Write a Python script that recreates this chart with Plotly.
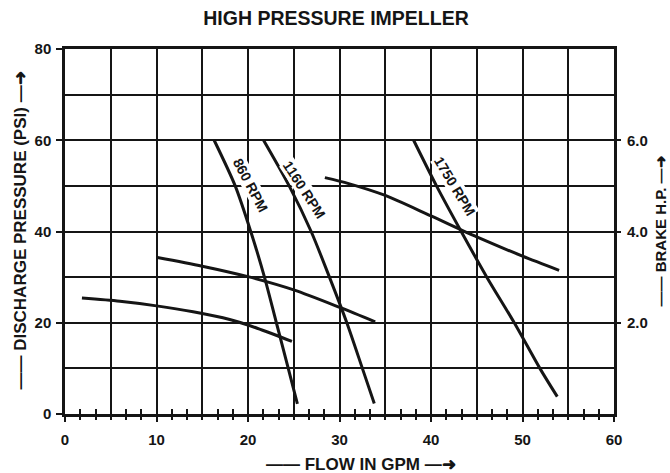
import plotly.graph_objects as go

# ---- Data ----
# Head curves: flow (GPM) vs discharge pressure (PSI)
gpm_860 = [16.3, 18.6, 20.3, 21.8, 23.1, 24.4, 25.4]
psi_860 = [60, 50, 40, 30, 20, 10, 2.2]

gpm_1160 = [21.7, 24.5, 26.9, 28.9, 30.8, 32.5, 33.8]
psi_1160 = [60, 50, 40, 30, 20, 10, 2.3]

gpm_1750 = [38.1, 40.6, 43.3, 46.1, 49.1, 51.9, 53.8]
psi_1750 = [60, 50, 40, 30, 20, 10, 3.8]

# Brake horsepower curves: flow (GPM) vs Brake H.P.
gpm_bhp_860 = [1.85, 6.0, 10.0, 14.0, 18.0, 21.0, 24.8]
bhp_860 = [2.54, 2.47, 2.37, 2.24, 2.07, 1.88, 1.59]

gpm_bhp_1160 = [10.1, 15.0, 20.0, 25.0, 30.1, 33.9]
bhp_1160 = [3.43, 3.24, 3.01, 2.72, 2.33, 2.02]

gpm_bhp_1750 = [28.4, 31.0, 35.0, 40.0, 45.0, 50.0, 54.0]
bhp_1750 = [5.18, 5.05, 4.79, 4.34, 3.88, 3.46, 3.15]

rpm_labels = ["860 RPM", "1160 RPM", "1750 RPM"]

INK = "#151515"
FONT = "Liberation Sans, Arial, sans-serif"

fig = go.Figure()

line_style = dict(color=INK, width=3, shape="spline", smoothing=0.8)
for gx, gy in [(gpm_860, psi_860), (gpm_1160, psi_1160), (gpm_1750, psi_1750)]:
    fig.add_trace(go.Scatter(x=gx, y=gy, mode="lines", line=line_style,
                             hoverinfo="skip", showlegend=False))
for gx, gy in [(gpm_bhp_860, bhp_860), (gpm_bhp_1160, bhp_1160), (gpm_bhp_1750, bhp_1750)]:
    fig.add_trace(go.Scatter(x=gx, y=gy, mode="lines", line=line_style, yaxis="y2",
                             hoverinfo="skip", showlegend=False))

# helper empty traces so the overlay tick axes get drawn
fig.add_trace(go.Scatter(x=[None], y=[None], xaxis="x2", mode="lines", showlegend=False, hoverinfo="skip"))
fig.add_trace(go.Scatter(x=[None], y=[None], xaxis="x3", mode="lines", showlegend=False, hoverinfo="skip"))

# RPM labels along the head curves
label_pos = [(20.3, 50.3, 62), (26.2, 49.2, 57), (42.6, 50.0, 59)]
for txt, (lx, ly, ang) in zip(rpm_labels, label_pos):
    fig.add_annotation(x=lx, y=ly, xref="x", yref="y", text=txt, showarrow=False,
                       textangle=ang, font=dict(family=FONT, size=14, color=INK, weight="bold"),
                       bgcolor="white", borderpad=0)

# axis titles
fig.add_annotation(xref="paper", yref="paper", x=0, y=0.5, xshift=-45, yshift=1,
                   xanchor="center", yanchor="middle",
                   text="—— DISCHARGE PRESSURE (PSI) —➜", textangle=-90, showarrow=False,
                   font=dict(family=FONT, size=17, color=INK, weight="bold"))
fig.add_annotation(xref="paper", yref="paper", x=1, y=0.5, xshift=46, yshift=0,
                   xanchor="center", yanchor="middle",
                   text="—— BRAKE H.P. —➜", textangle=-90, showarrow=False,
                   font=dict(family=FONT, size=15, color=INK, weight="bold"))
fig.add_annotation(xref="paper", yref="paper", x=0.5, y=0, xshift=21, yshift=-50,
                   xanchor="center", yanchor="middle",
                   text="—— FLOW IN GPM —➜", showarrow=False,
                   font=dict(family=FONT, size=17, color=INK, weight="bold"))

grid = dict(showgrid=True, gridcolor=INK, gridwidth=2)
tickfont = dict(family=FONT, size=15, color=INK, weight="bold")

fig.update_layout(
    width=670, height=473,
    margin=dict(l=65, r=56, t=49, b=59),
    paper_bgcolor="white", plot_bgcolor="white",
    showlegend=False,
    title=dict(text="HIGH PRESSURE IMPELLER", xref="container", x=0.5015,
               yref="container", y=0.962, xanchor="center", yanchor="middle",
               font=dict(family=FONT, size=19.5, color=INK, weight="bold")),
    xaxis=dict(range=[0, 60], tickmode="linear", tick0=0, dtick=10, **grid,
               minor=dict(tick0=0, dtick=5, showgrid=True, gridcolor=INK, gridwidth=2),
               showline=True, linecolor=INK, linewidth=2.5, mirror=True,
               ticks="outside", ticklen=5, tickwidth=2, tickcolor=INK,
               zeroline=False, tickfont=tickfont, ticklabelstandoff=5, fixedrange=True),
    xaxis2=dict(overlaying="x", anchor="y", range=[0, 60], tickmode="linear", tick0=0,
                dtick=5 / 3, ticks="outside", ticklen=5, tickwidth=1.8, tickcolor=INK,
                showticklabels=False, showgrid=False, zeroline=False, showline=False),
    xaxis3=dict(overlaying="x", anchor="y", range=[0, 60], tickmode="linear", tick0=0,
                dtick=5 / 3, ticks="inside", ticklen=5, tickwidth=1.8, tickcolor=INK,
                showticklabels=False, showgrid=False, zeroline=False, showline=False),
    yaxis=dict(range=[0, 80], tickmode="linear", tick0=0, dtick=20, **grid,
               minor=dict(tick0=0, dtick=10, showgrid=True, gridcolor=INK, gridwidth=2),
               showline=True, linecolor=INK, linewidth=2.5, mirror=True,
               ticks="outside", ticklen=6, tickwidth=2, tickcolor=INK,
               zeroline=False, tickfont=tickfont, ticklabelstandoff=2),
    yaxis2=dict(overlaying="y", side="right", anchor="x", range=[0, 8],
                tickvals=[2, 4, 6], tickformat=".1f", ticks="outside", ticklen=6,
                tickwidth=2, tickcolor=INK, showgrid=False, zeroline=False,
                showline=False, tickfont=tickfont, ticklabelstandoff=3),
)

fig.write_html("out.html", config={"displayModeBar": False},
               post_script="document.body.style.margin='0px';")
